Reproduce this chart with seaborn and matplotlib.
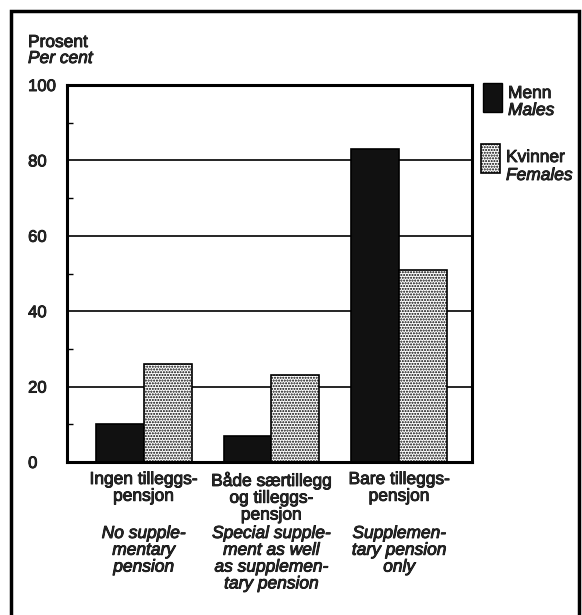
import pandas as pd
import seaborn as sns
import matplotlib.pyplot as plt
import matplotlib.patheffects as pe
from matplotlib.patches import Rectangle
from matplotlib import transforms

# data
groups = ['Ingen', 'Begge', 'Bare']
menn = [10, 7, 83]
kvinner = [26, 23, 51]
no_labels = ['Ingen tilleggs-\npensjon', 'Både særtillegg\nog tilleggs-\npensjon', 'Bare tilleggs-\npensjon']
en_labels = ['No supple-\nmentary\npension', 'Special supple-\nment as well\nas supplemen-\ntary pension',
             'Supplemen-\ntary pension\nonly']
y_ticks = [0, 20, 40, 60, 80, 100]

df = pd.DataFrame({'gruppe': groups * 2,
                   'kjonn': ['Menn'] * 3 + ['Kvinner'] * 3,
                   'prosent': menn + kvinner})

sns.set_style('white')
plt.rcParams['font.family'] = ['Liberation Sans', 'DejaVu Sans']
plt.rcParams['font.size'] = 12.5
plt.rcParams['hatch.linewidth'] = 1.0

# thicken text a little, like the printed original
thick = [pe.withStroke(linewidth=0.6, foreground='black')]

fig = plt.figure(figsize=(5.82, 6.15), dpi=100)
ax = fig.add_axes([67 / 582, 1 - 462 / 615, (472 - 67) / 582, (462 - 85) / 615])

sns.barplot(data=df, x='gruppe', y='prosent', hue='kjonn', order=groups,
            hue_order=['Menn', 'Kvinner'], palette=['#111111', 'white'],
            width=0.75, edgecolor='black', linewidth=1.2, legend=False, ax=ax)

# females get the stipple pattern
for p in ax.patches[3:6]:
    p.set_hatch('......')

ax.set_xlim(-0.6, 2.57)
ax.set_ylim(0, 100)
ax.set_yticks(y_ticks)
ax.set_yticklabels([str(t) for t in y_ticks], ha='left')
ax.set_yticks([10, 30, 50, 70, 90], minor=True)
ax.tick_params(axis='y', which='major', length=0, pad=28, labelsize=12)
ax.tick_params(axis='y', which='minor', direction='in', length=4, width=1, color='black', left=True)
for lab in ax.get_yticklabels():
    lab.set_path_effects(thick)
ax.set_xticks([])
ax.set_xlabel('')
ax.set_ylabel('')

ax.set_axisbelow(True)
for t in y_ticks[1:-1]:
    ax.axhline(t, color='black', lw=1.2, zorder=0)
for s in ax.spines.values():
    s.set_color('black')
    s.set_linewidth(2.2)

# category labels below the axis
tr = transforms.blended_transform_factory(ax.transData, fig.transFigure)
for i in range(3):
    ax.text(i, 1 - 472 / 615, no_labels[i], transform=tr, ha='center', va='top',
            linespacing=1.15, path_effects=thick)
    ax.text(i, 1 - 526 / 615, en_labels[i], transform=tr, ha='center', va='top',
            linespacing=1.15, style='italic', path_effects=thick)

# axis title
fig.text(28 / 582, 1 - 47 / 615, 'Prosent', va='baseline', path_effects=thick)
fig.text(28 / 582, 1 - 63 / 615, 'Per cent', va='baseline', style='italic', path_effects=thick)

# legend, drawn by hand
fig.add_artist(Rectangle((483 / 582, 1 - 112 / 615), 19 / 582, 29 / 615,
                         transform=fig.transFigure, facecolor='#111111', edgecolor='black', lw=1))
fig.text(508 / 582, 1 - 98 / 615, 'Menn', va='baseline', path_effects=thick)
fig.text(508 / 582, 1 - 115 / 615, 'Males', va='baseline', style='italic', path_effects=thick)
fig.add_artist(Rectangle((481 / 582, 1 - 173 / 615), 19 / 582, 29 / 615,
                         transform=fig.transFigure, facecolor='white', edgecolor='black',
                         lw=1.2, hatch='......'))
fig.text(506 / 582, 1 - 162 / 615, 'Kvinner', va='baseline', path_effects=thick)
fig.text(506 / 582, 1 - 180 / 615, 'Females', va='baseline', style='italic', path_effects=thick)

# outer frame
fig.add_artist(Rectangle((11 / 582, -0.02), (579 - 11) / 582, 1.02 - 11 / 615,
                         transform=fig.transFigure, fill=False, edgecolor='black', lw=2.5))

fig.savefig('out.png', dpi=100)
